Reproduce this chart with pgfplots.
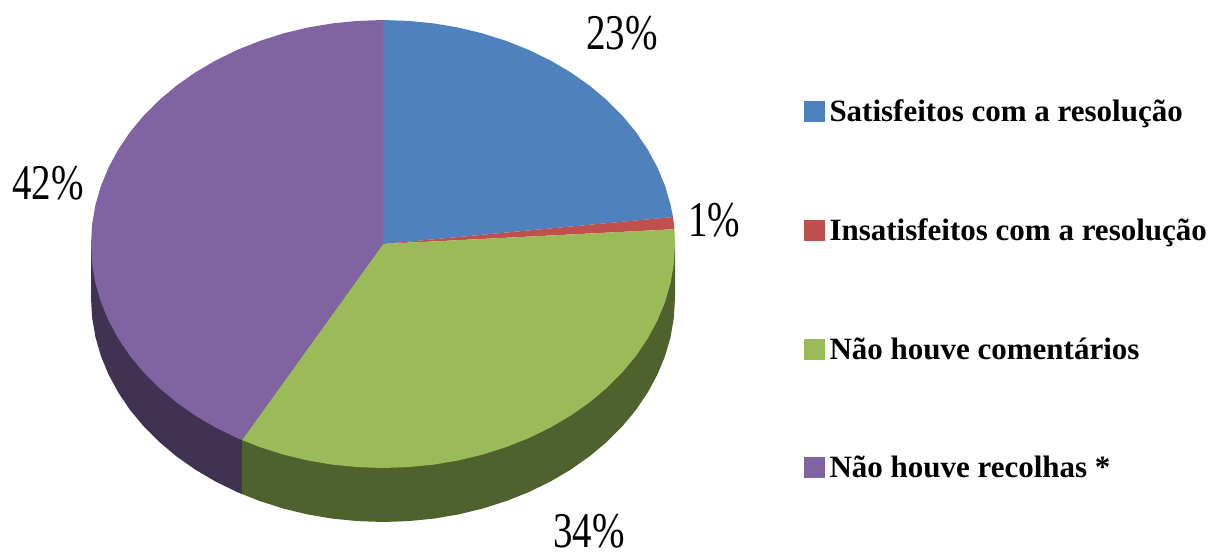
\documentclass[border=0pt]{standalone}
\usepackage{pgfplots}
\pgfplotsset{compat=1.18}
\usepackage{fontspec}
\setmainfont{Liberation Serif}
\newfontfamily\narrowfont[FakeStretch=0.78]{Liberation Serif}
\definecolor{cblue}{HTML}{4F81BD}
\definecolor{cred}{HTML}{C0504D}
\definecolor{cgreen}{HTML}{9BBB59}
\definecolor{cpurple}{HTML}{8064A2}
\definecolor{dgreen}{HTML}{4F612C}
\definecolor{dpurple}{HTML}{403253}
\begin{document}
\begin{tikzpicture}
\begin{axis}[
  scale only axis, width=1210pt, height=552pt,
  xmin=0, xmax=1210, ymin=0, ymax=552, y dir=reverse,
  hide axis, clip=false, no markers,
  legend image code/.code={\fill[#1] (0pt,-10.5pt) rectangle (21pt,10.5pt);},
  legend cell align=left,
  legend style={at={(axis cs:804,98)}, anchor=north west, draw=none, fill=none,
    inner sep=0pt, outer sep=0pt, font=\fontsize{31pt}{35pt}\selectfont\bfseries,
    row sep=91.4pt, /tikz/every node/.append style={inner xsep=4.5pt}},
]
% side walls
\addplot[forget plot, fill=dpurple, draw=none] coordinates {
(91,244)(91,298)(92.1,317.5)(95.4,336.9)(100.9,356)(108.6,374.6)(118.4,392.7)(130.1,410)(143.8,426.5)(159.3,442)(176.5,456.4)(195.3,469.6)(215.5,481.5)(237,492)(242,494)(242,440)(383,244)} -- cycle;
\addplot[forget plot, fill=dgreen, draw=none] coordinates {
(675,244)(675,298)(673.9,317.5)(670.6,336.9)(665.1,356)(657.4,374.6)(647.6,392.7)(635.9,410)(622.2,426.5)(606.7,442)(589.5,456.4)(570.7,469.6)(550.5,481.5)(529,492)(506.4,501)(482.9,508.5)(458.6,514.4)(433.7,518.6)(408.5,521.1)(383,522)(357.5,521.1)(332.3,518.6)(307.4,514.4)(283.1,508.5)(259.6,501)(242,494)(242,440)(383,244)} -- cycle;
% top faces
\addplot[fill=cblue, draw=none] coordinates {
(383,244)(383,20)(408.5,20.9)(433.7,23.4)(458.6,27.6)(482.9,33.5)(506.4,41)(529,50)(550.5,60.5)(570.7,72.4)(589.5,85.6)(606.7,100)(622.2,115.5)(635.9,132)(647.6,149.3)(657.4,167.4)(665.1,186)(670.6,205.1)(673,217)} -- cycle;
\addlegendentry{Satisfeitos com a resolução}
\addplot[fill=cred, draw=none] coordinates {
(383,244)(673,217)(673.9,224.5)(674.4,229.2)} -- cycle;
\addlegendentry{Insatisfeitos com a resolução}
\addplot[fill=cgreen, draw=none] coordinates {
(383,244)(674.4,229.2)(675,244)(673.9,263.5)(670.6,282.9)(665.1,302)(657.4,320.6)(647.6,338.7)(635.9,356)(622.2,372.5)(606.7,388)(589.5,402.4)(570.7,415.6)(550.5,427.5)(529,438)(506.4,447)(482.9,454.5)(458.6,460.4)(433.7,464.6)(408.5,467.1)(383,468)(357.5,467.1)(332.3,464.6)(307.4,460.4)(283.1,454.5)(259.6,447)(242,440)} -- cycle;
\addlegendentry{Não houve comentários}
\addplot[fill=cpurple, draw=none] coordinates {
(383,244)(242,440)(237,438)(215.5,427.5)(195.3,415.6)(176.5,402.4)(159.3,388)(143.8,372.5)(130.1,356)(118.4,338.7)(108.6,320.6)(100.9,302)(95.4,282.9)(92.1,263.5)(91,244)(92.1,224.5)(95.4,205.1)(100.9,186)(108.6,167.4)(118.4,149.3)(130.1,132)(143.8,115.5)(159.3,100)(176.5,85.6)(195.3,72.4)(215.5,60.5)(237,50)(259.6,41)(283.1,33.5)(307.4,27.6)(332.3,23.4)(357.5,20.9)(383,20)} -- cycle;
\addlegendentry{Não houve recolhas *}
\node[font=\narrowfont\fontsize{50pt}{50pt}\selectfont, inner sep=0pt] at (axis cs:622,33) {23\%};
\node[font=\narrowfont\fontsize{50pt}{50pt}\selectfont, inner sep=0pt] at (axis cs:714,220) {1\%};
\node[font=\narrowfont\fontsize{50pt}{50pt}\selectfont, inner sep=0pt] at (axis cs:48,183) {42\%};
\node[font=\narrowfont\fontsize{50pt}{50pt}\selectfont, inner sep=0pt] at (axis cs:589,531) {34\%};
\end{axis}
\pgfresetboundingbox
\path (current axis.south west) rectangle (current axis.north east);
\end{tikzpicture}
\end{document}
